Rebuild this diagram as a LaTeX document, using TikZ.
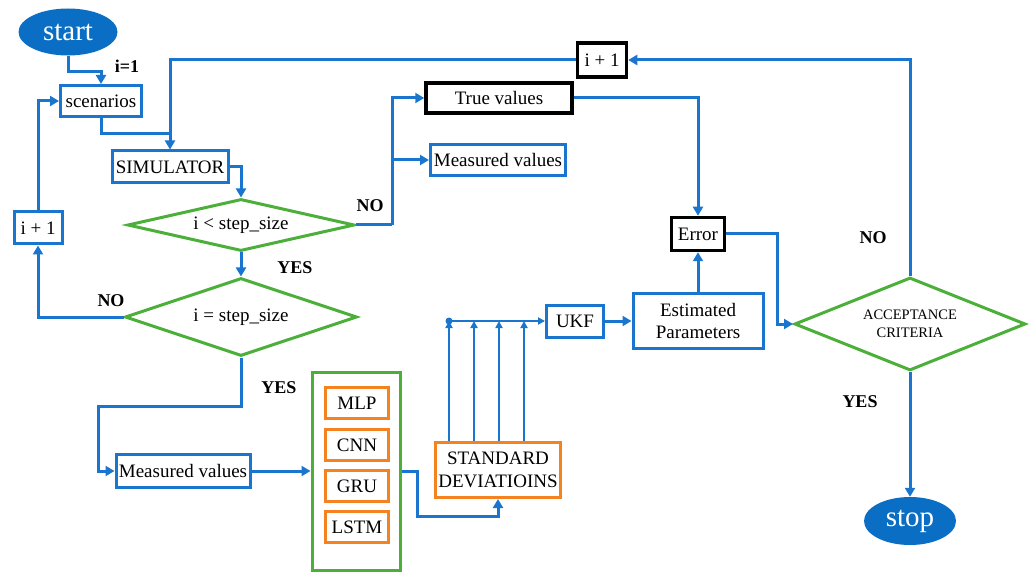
\documentclass[tikz,border=0pt]{standalone}
\usepackage{fontspec}
\setmainfont{Liberation Serif}
\usetikzlibrary{arrows.meta,shapes.geometric}
\definecolor{lineblue}{RGB}{26,117,207}
\definecolor{ovalblue}{RGB}{10,111,196}
\definecolor{boxgreen}{RGB}{76,175,58}
\definecolor{boxorange}{RGB}{245,130,32}

\begin{document}
\begin{tikzpicture}[x=1pt,y=-1pt,
	every node/.style={font=\fontsize{19}{23}\selectfont,inner sep=0pt},
	bbox/.style={draw=lineblue,line width=3pt,rectangle},
	kbox/.style={draw=black,line width=3.5pt,rectangle},
	obox/.style={draw=boxorange,line width=3pt,rectangle,minimum width=63,minimum height=31},
	gdia/.style={draw=boxgreen,line width=3pt,diamond},
	oval/.style={ellipse,fill=ovalblue,text=white,font=\fontsize{29}{32}\selectfont},
	lbl/.style={font=\fontsize{18}{20}\selectfont\bfseries},
	ln/.style={draw=lineblue,line width=3pt},
	arr/.style={draw=lineblue,line width=3pt,-{Triangle[length=9pt,width=10pt]}},
	thinarr/.style={draw=lineblue,line width=2pt,-{Triangle[length=7pt,width=7pt]}}]
		
		\useasboundingbox (0,0) rectangle (1031,572);
		
		\node[oval,minimum width=99,minimum height=47] (start) at (68,32) {start};
		\node[bbox,minimum width=81,minimum height=31] (scen) at (101,101) {scenarios};
		\node[bbox,minimum width=116,minimum height=32] (sim) at (170,167) {SIMULATOR};
		\node[gdia,minimum width=227,minimum height=52,aspect=4.4] (d1) at (241,225) {i < step\_size};
		\node[gdia,minimum width=232,minimum height=78,aspect=3] (d2) at (241,317) {i = step\_size};
		\node[bbox,minimum width=48,minimum height=32] (inc1) at (38,228) {i + 1};
		\node[bbox,minimum width=134,minimum height=33] (mv2) at (183,471) {Measured values};
		
		\node[draw=boxgreen,line width=3pt,minimum width=88,minimum height=198] (nn) at (356,471) {};
		\node[obox] (mlp) at (357,403) {MLP};
		\node[obox] (cnn) at (357,445) {CNN};
		\node[obox] (gru) at (357,486) {GRU};
		\node[obox] (lstm) at (357,527) {LSTM};
		\node[obox,minimum width=125,minimum height=55,align=center] (sd) at (498,470) {STANDARD\\DEVIATIOINS};
		\node[bbox,minimum width=57,minimum height=32] (ukf) at (575,321) {UKF};
		
		\node[kbox,minimum width=49,minimum height=34] (inc2) at (602,60) {i + 1};
		\node[kbox,minimum width=146,minimum height=30] (tv) at (499,98) {True values};
		\node[bbox,minimum width=135,minimum height=31] (mv1) at (498,160) {Measured values};
		\node[kbox,minimum width=53,minimum height=33] (err) at (698,234) {Error};
		\node[bbox,minimum width=130,minimum height=55,align=center] (ep) at (698,321) {Estimated\\Parameters};
		\node[gdia,minimum width=231,minimum height=93,aspect=2.5,align=center,font=\fontsize{14.5}{18}\selectfont] (acc) at (910,324) {ACCEPTANCE\\CRITERIA};
		\node[oval,minimum width=92,minimum height=48] (stop) at (910,521) {stop};
		
		\node[lbl] (one) at (127,66) {i=1};
		\node[lbl] (no1) at (370,206) {NO};
		\node[lbl] (yes1) at (295,268) {YES};
		\node[lbl] (no2) at (111,301) {NO};
		\node[lbl] (yes2) at (279,388) {YES};
		\node[lbl] (no3) at (873,238) {NO};
		\node[lbl] (yes3) at (860,402) {YES};
		
		\coordinate (jn) at (170,134);
		\coordinate (br) at (392,225);
		\coordinate (ec) at (777,234);
		\coordinate (dl) at (98,406);
		\coordinate (gl) at (417,516);
		\coordinate (bus) at (449,321);
		
		\draw[arr] (start.south) -- ++(0,16) -| (scen.north);
		\draw[ln] (scen.south) |- (jn);
		\draw[arr] (jn) to (sim.north);
		\draw[ln] (inc2.west) -| (jn);
		\draw[arr] (acc.north) |- (inc2.east);
		\draw[arr] (sim.east) -| (d1.north);
		\draw[ln] (d1.east) to (br);
		\draw[arr] (br) |- (tv.west);
		\draw[arr] (br) |- (mv1.west);
		\draw[arr] (tv.east) -| (err.north);
		\draw[arr] (ep.north) to (err.south);
		\draw[arr] (err.east) -- (ec) |- (acc.west);
		\draw[arr] (acc.south) to (stop.north);
		
		\draw[arr] (d1.south) to (d2.north);
		\draw[arr] (d2.west) -| (inc1.south);
		\draw[arr] (inc1.north) |- (scen.west);
		\draw[arr] (d2.south) |- (dl) |- (mv2.west);
		\draw[arr] (mv2.east) to (nn.west);
		\draw[arr] (nn.east) -| (gl) -| (sd.south);
		
		\foreach \x in {449,474,499,524}
			\draw[thinarr] (sd.north -| \x,0) -- (bus -| \x,0);
		\draw[thinarr] (bus) -- (ukf.west);
		\fill[lineblue] (bus) circle (3.5);
		\draw[arr] (ukf.east) to (ep.west);
		
	\end{tikzpicture}
\end{document}
